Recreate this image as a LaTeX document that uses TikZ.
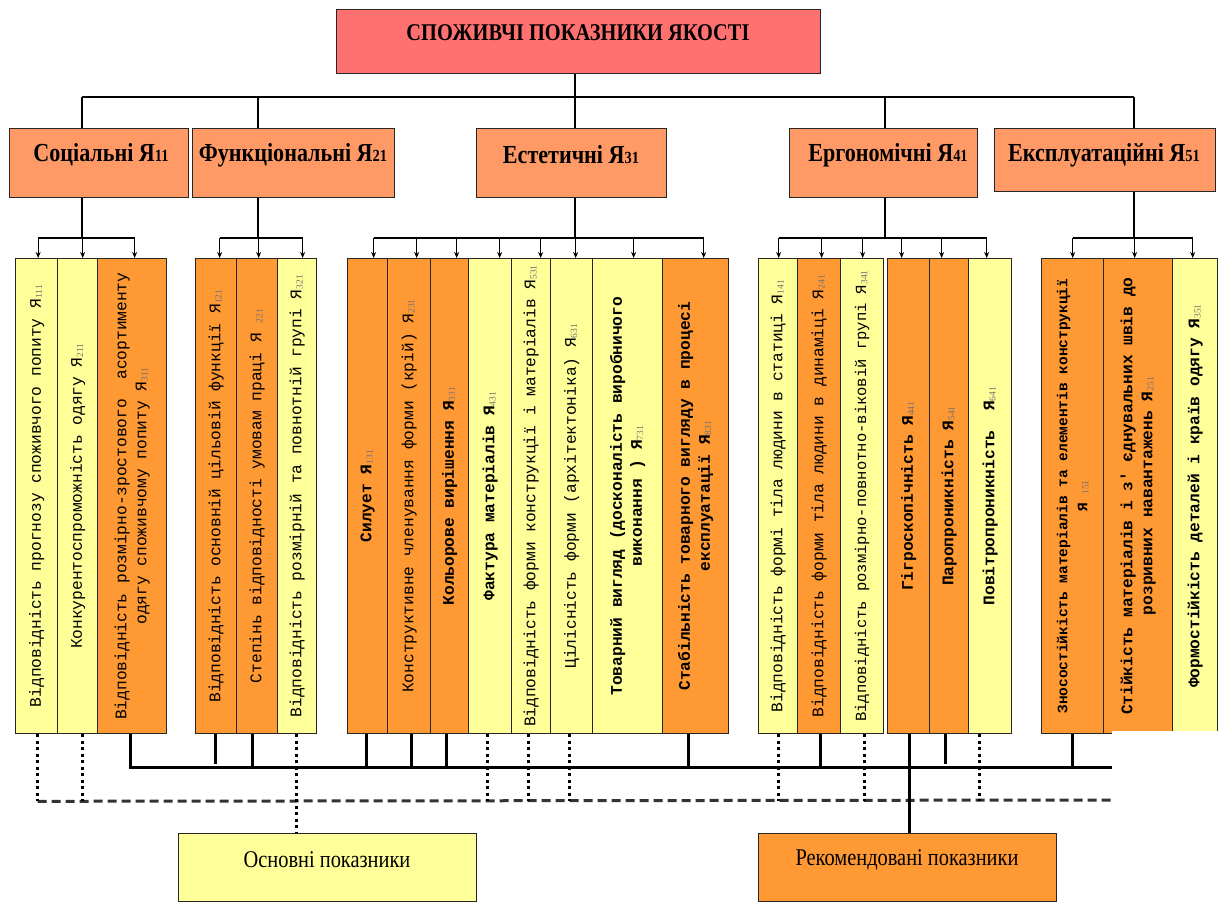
\documentclass[tikz,border=0pt]{standalone}
\usepackage{fontspec}
\setmainfont{Liberation Serif}
\newfontfamily\condfont[FakeStretch=0.85]{Liberation Serif}
\newfontfamily\monofont{Liberation Mono}
\usetikzlibrary{calc,arrows.meta}
\definecolor{titlered}{HTML}{FF7070}
\definecolor{catorange}{HTML}{FF9966}
\definecolor{colorange}{HTML}{FF9933}
\definecolor{colyellow}{HTML}{FFFF99}
\newcommand\sbs[1]{\raisebox{-0.15ex}{\rmfamily\mdseries\fontsize{9.5}{9.5}\selectfont\color{black!55}#1}}
\newcommand\ya[1]{Я\sbs{#1}}
\newcommand\csub[1]{{\fontsize{17}{17}\selectfont #1}}
\newcommand\rbox[6]{\node[box,#2,minimum width={#5-#3},minimum height={#6-#4}] (#1) at (#3,#4) {};}
\newcommand\colbox[6]{\rbox{#1}{fill=#2}{#3}{258}{#4}{733}
  \node[coltext,rotate=90,#6] (#1t) at (#1.center) {#5};}
\newcommand\arrto[2]{\draw[arr] ($(#1.north)+(#2,-20)$) -- ($(#1.north)+(#2,0)$);}
\newcommand\sstub[3]{\draw[stub] ($(#1.south)+(#2,0)$) -- ($(#1.south)+(#2,#3)$);}
\newcommand\dstubto[3]{\draw[dstub] ($(#1.south)+(#2,0)$) -- ($(#1.south)+(#2,#3)$);}
\begin{document}
\begin{tikzpicture}[x=1pt,y=-1pt,
  box/.style={draw=black!85,line width=1.3pt,inner sep=0pt,anchor=north west},
  conn/.style={line width=1.3pt},
  arr/.style={conn,-{Stealth[length=6pt,width=5pt]}},
  stub/.style={line width=2.6pt},
  dstub/.style={line width=2.6pt,dash pattern=on 3pt off 3.5pt},
  bus/.style={line width=3pt},
  dbus/.style={line width=3pt,draw=black!80,dash pattern=on 9pt off 5pt},
  coltext/.style={font=\monofont\fontsize{16.2}{20}\selectfont,align=center,inner sep=0pt},
  boldcol/.style={font=\monofont\bfseries\fontsize{16.2}{20}\selectfont},
  cattext/.style={font=\condfont\bfseries\fontsize{26}{30}\selectfont,inner sep=0pt},
  bottext/.style={font=\condfont\fontsize{24}{28}\selectfont,inner sep=0pt}]
\useasboundingbox (0,0) rectangle (1221,903);

% title
\rbox{title}{fill=titlered}{336}{9}{820}{73}
\node[font=\condfont\bfseries\fontsize{24}{28}\selectfont,inner sep=0pt] (titlet) at (578,33) {СПОЖИВЧІ ПОКАЗНИКИ ЯКОСТІ};

% categories
\rbox{soc}{fill=catorange}{9}{128}{188}{197}
\rbox{fun}{fill=catorange}{192}{128}{394}{197}
\rbox{est}{fill=catorange}{476}{128}{666}{197}
\rbox{erg}{fill=catorange}{789}{128}{977}{197}
\rbox{exp}{fill=catorange}{994}{128}{1215}{191}
\node[cattext] (soct) at (101,155) {Соціальні Я\csub{11}};
\node[cattext] (funt) at (293,155) {Функціональні Я\csub{21}};
\node[cattext] (estt) at (571,155) {Естетичні Я\csub{31}};
\node[cattext] (ergt) at (888,155) {Ергономічні Я\csub{41}};
\node[cattext] (expt) at (1104,155) {Експлуатаційні Я\csub{51}};

% columns group 1
\colbox{c11}{colyellow}{15}{57}{Відповідність прогнозу споживчого попиту \ya{111}}{}
\colbox{c12}{colyellow}{57}{97}{Конкурентоспроможність одягу \ya{211}}{}
\colbox{c13}{colorange}{97}{166}{Відповідність розмірно-зростового\ \ асортименту\\одягу споживчому попиту \ya{311}}{}
% group 2
\colbox{c21}{colorange}{195}{236}{Відповідність основній цільовій функції \ya{121}}{}
\colbox{c22}{colorange}{236}{277}{Степінь відповідності умовам праці Я \sbs{221}}{}
\colbox{c23}{colyellow}{277}{316}{Відповідність розмірній та повнотній групі \ya{321}}{}
% group 3
\colbox{c31}{colorange}{347}{387}{Силует \ya{131}}{boldcol}
\colbox{c32}{colorange}{387}{430}{Конструктивне членування форми (крій) \ya{231}}{}
\colbox{c33}{colorange}{430}{468}{Кольорове вирішення \ya{331}}{boldcol}
\colbox{c34}{colyellow}{468}{511}{Фактура матеріалів \ya{431}}{boldcol}
\colbox{c35}{colyellow}{511}{550}{Відповідність форми конструкції і матеріалів \ya{531}}{}
\colbox{c36}{colyellow}{550}{592}{Цілісність форми (архітектоніка) \ya{631}}{}
\colbox{c37}{colyellow}{592}{662}{Товарний вигляд (досконалість виробничого\\виконання ) \ya{731}}{boldcol}
\colbox{c38}{colorange}{662}{728}{Стабільність товарного вигляду в процесі\\експлуатації \ya{831}}{boldcol}
% group 4
\colbox{c41}{colyellow}{758}{797}{Відповідність формі тіла людини в статиці \ya{141}}{}
\colbox{c42}{colorange}{797}{840}{Відповідність форми тіла людини в динаміці \ya{241}}{}
\colbox{c43}{colyellow}{840}{883}{Відповідність розмірно-повнотно-віковій групі \ya{341}}{font=\monofont\fontsize{15.5}{20}\selectfont}
\colbox{c44}{colorange}{887}{929}{Гігроскопічність \ya{441}}{boldcol}
\colbox{c45}{colorange}{929}{968}{Паропроникність \ya{541}}{boldcol}
\colbox{c46}{colyellow}{968}{1011}{Повітропроникність\ \ \ya{641}}{boldcol}
% group 5
\colbox{c51}{colorange}{1041}{1103}{Зносостійкість матеріалів та елементів конструкції\\Я \sbs{151}}{font=\monofont\bfseries\fontsize{14.5}{20}\selectfont}
\colbox{c52}{colorange}{1103}{1172}{Стійкість матеріалів і з' єднувальних швів до\\розривних навантажень \ya{251}}{boldcol}
\colbox{c53}{colyellow}{1172}{1217}{Формостійкість деталей і країв одягу \ya{351}}{boldcol}

% bottom boxes
\rbox{osn}{fill=colyellow}{178}{833}{476}{901}
\rbox{rek}{fill=colorange}{758}{833}{1056}{901}
\node[bottext] (osnt) at (327,860) {Основні показники};
\node[bottext] (rekt) at (907,860) {Рекомендовані показники};

% top connectors
\coordinate (d1) at (82,97);
\coordinate (d2) at (258,97);
\coordinate (d3) at (575,97);
\coordinate (d4) at (885,97);
\coordinate (d5) at (1134,97);
\coordinate (ab) at (0,238);
\draw[conn] (d1) -- (d5);
\draw[conn] (title.south -| d3) -- (est.north -| d3);
\draw[conn] (d1) -- (soc.north -| d1);
\draw[conn] (d2) -- (fun.north -| d2);
\draw[conn] (d4) -- (erg.north -| d4);
\draw[conn] (d5) -- (exp.north -| d5);
\draw[conn] (soc.south -| d1) -- (ab -| d1);
\draw[conn] (fun.south -| d2) -- (ab -| d2);
\draw[conn] (est.south -| d3) -- (ab -| d3);
\draw[conn] (erg.south -| d4) -- (ab -| d4);
\draw[conn] (exp.south -| d5) -- (ab -| d5);

% arrow buses
\draw[conn] ($(c11.north)+(1.5,-20)$) -- ($(c13.north)+(2.5,-20)$);
\arrto{c11}{1.5}\arrto{c12}{5}\arrto{c13}{2.5}
\draw[conn] ($(c21.north)+(3.5,-20)$) -- ($(c23.north)+(5.5,-20)$);
\arrto{c21}{3.5}\arrto{c22}{1.5}\arrto{c23}{5.5}
\draw[conn] ($(c31.north)+(6,-20)$) -- ($(c38.north)+(8,-20)$);
\arrto{c31}{6}\arrto{c32}{7.5}\arrto{c33}{7}\arrto{c34}{9.5}\arrto{c35}{9.5}\arrto{c36}{4}\arrto{c37}{6}\arrto{c38}{8}
\draw[conn] ($(c41.north)+(0.5,-20)$) -- ($(c46.north)+(-3.5,-20)$);
\arrto{c41}{0.5}\arrto{c42}{2.5}\arrto{c43}{0.5}\arrto{c44}{-7}\arrto{c45}{-7.5}\arrto{c46}{-3.5}
\draw[conn] ($(c51.north)+(0,-20)$) -- ($(c53.north)+(-2.5,-20)$);
\arrto{c51}{0}\arrto{c52}{-3.5}\arrto{c53}{-2.5}

% bottom buses
\coordinate (busR) at (1112,767);
\coordinate (dbR) at (1112,800);
\draw[dbus] ($(c11.south)+(1,67)$) -- (dbR);
\draw[bus] ($(c13.south)+(-1.5,0)$) |- (busR);
\sstub{c21}{-0.5}{30}\sstub{c22}{-4.5}{34}
\sstub{c31}{-1}{34}\sstub{c32}{2.5}{34}\sstub{c33}{-3}{34}\sstub{c38}{-7}{34}
\sstub{c42}{1.5}{34}\sstub{c45}{-3.5}{30}
\sstub{c51}{0}{34}
\dstubto{c11}{1}{67}\dstubto{c12}{5}{67}
\dstubto{c34}{-2.5}{67}\dstubto{c35}{-2.5}{67}\dstubto{c36}{-2}{67}
\dstubto{c41}{0.5}{67}\dstubto{c43}{2.5}{67}\dstubto{c46}{-10.5}{67}
\coordinate (s23) at ($(c23.south)+(-0.5,0)$);
\coordinate (s44) at ($(c44.south)+(1,0)$);
\draw[dstub] (s23) -- (s23 |- osn.north);
\draw[stub] (s44) -- (s44 |- rek.north);

% white mask at lower right
\fill[white] (1112,731) rectangle (1221,903);
\end{tikzpicture}
\end{document}
